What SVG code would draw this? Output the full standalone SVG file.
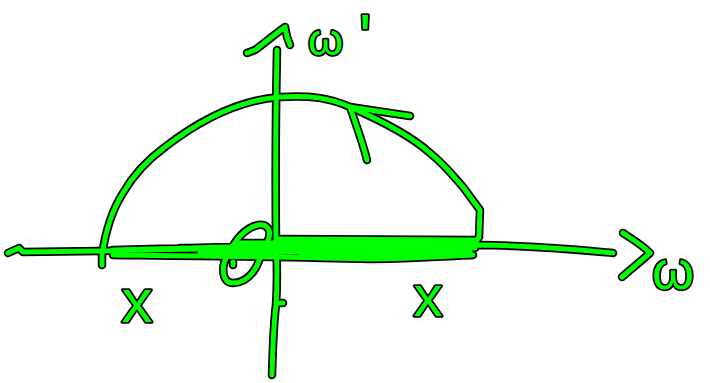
<svg xmlns="http://www.w3.org/2000/svg" xmlns:xlink="http://www.w3.org/1999/xlink" width="710" height="383" viewBox="0 0 710 383">
<style>
.o{fill:none;stroke:#000;stroke-width:8.5;stroke-linecap:round;stroke-linejoin:round}
.g{fill:none;stroke:#00ff00;stroke-width:5;stroke-linecap:round;stroke-linejoin:round}
.lbl{font-family:"Liberation Sans","DejaVu Sans",sans-serif;fill:#00ff00;stroke:#000;stroke-width:3.5;stroke-linejoin:round;paint-order:stroke}
</style>
<defs>
<path id="haxis" d="M8,253 L19,248 L23,252 L100,251 C200,248 350,247 480,245 C540,246 580,250 613,253"/>
<path id="harrow" d="M623,233 C630,238 640,243 650,253 C640,262 630,270 622,277"/>
<path id="vaxis" d="M277,50 C276,100 275,150 276,240 C277,260 277,290 276,305 C274,320 273,340 272,375"/>
<path id="vnub" d="M277,303 L283,303"/>
<path id="varrow" d="M247,53 L255,50 C262,45 270,38 285,27 L287,37 L290,45"/>
<path id="arc" d="M102,265 L102,255 C105,235 112,210 123,193 C135,172 150,158 165,147 C200,120 240,100 280,97 C310,95 330,98 350,107 C380,120 410,135 430,153 C445,165 455,178 463,187 L480,210 L479,237 L475,243"/>
<path id="arcarrow" d="M410,116 C390,113 370,110 350,107 C356,125 362,140 367,160"/>
<path id="band" d="M113,250 L300,245 L473,241 M113,255 C200,256 300,257 370,259 C420,258 450,256 473,255 M277,239 L475,240 M180,248 L475,248 M200,252 L470,252 M240,243 L470,244 M300,256 L440,256"/>
<path id="loop" d="M262,248 C260,265 250,283 233,283 C221,283 221,265 228,255 C235,240 245,228 258,225 C268,223 272,232 268,240 M233,262 L233,265"/>
</defs>
<g id="connectors">
<use href="#haxis" class="o"/><use href="#harrow" class="o"/><use href="#vaxis" class="o"/><use href="#vnub" class="o"/><use href="#varrow" class="o"/><use href="#arc" class="o"/><use href="#arcarrow" class="o"/><use href="#band" class="o"/><use href="#loop" class="o"/>
<use href="#haxis" class="g"/><use href="#harrow" class="g"/><use href="#vaxis" class="g"/><use href="#vnub" class="g"/><use href="#varrow" class="g"/><use href="#arc" class="g"/><use href="#arcarrow" class="g"/><use href="#band" class="g"/><use href="#loop" class="g"/>
</g>
<g id="label-omega-prime"><text class="lbl" x="308" y="55" font-size="45">ω<tspan x="359" y="60" font-size="65">'</tspan></text></g>
<g id="label-omega"><text class="lbl" x="652" y="289" font-size="54">ω</text></g>
<g id="label-x-left"><text class="lbl" x="137" y="322" font-size="62" text-anchor="middle">x</text></g>
<g id="label-x-right"><text class="lbl" x="428" y="316" font-size="58" text-anchor="middle">x</text></g>
</svg>
